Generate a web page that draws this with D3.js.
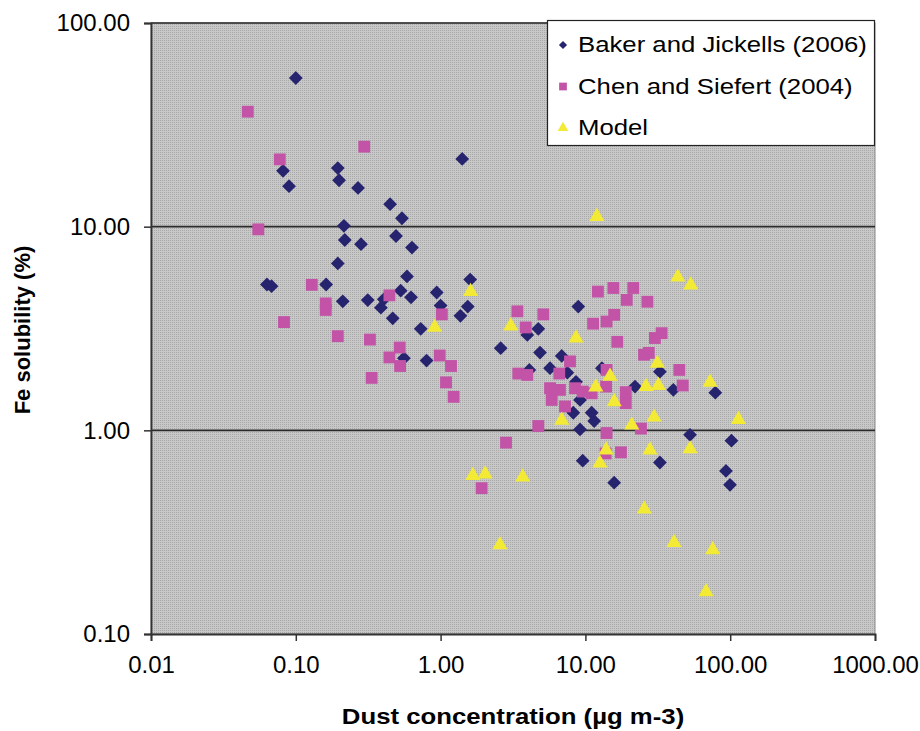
<!DOCTYPE html>
<html>
<head>
<meta charset="utf-8">
<script src="https://cdn.jsdelivr.net/npm/d3@7"></script>
<style>
html,body{margin:0;padding:0;background:#fff;}
svg{display:block;}
text{font-family:"Liberation Sans",Arial,sans-serif;fill:#000;}
</style>
</head>
<body>
<svg id="chart" width="920" height="731"></svg>
<script>
// ---- data (dust concentration µg m-3, Fe solubility %) ----
const bakerX = [0.10,0.0816,0.0898,0.195,0.199,0.269,1.41,0.448,0.541,0.215,0.218,0.282,0.492,0.634,0.195,0.0632,0.068,0.162,0.211,0.314,0.405,0.387,0.467,0.586,0.530,0.625,0.94,1.0,0.729,1.37,1.54,1.60,0.80,0.558,8.93,4.73,3.97,2.60,4.86,6.86,5.70,4.10,7.50,8.61,9.18,8.25,11.05,11.5,9.18,22.0,32.7,40.5,78.9,52.8,102,13.0,9.58,32.7,15.8,93.5,99.7];
const bakerY = [53.7,18.8,15.8,19.4,16.9,15.5,21.5,12.9,11.0,10.1,8.6,8.2,9.0,7.9,6.6,5.2,5.1,5.2,4.3,4.36,4.4,4.0,3.55,5.7,4.85,4.5,4.75,4.1,3.15,3.65,4.05,5.5,2.2,2.26,4.05,3.15,2.94,2.53,2.41,2.32,2.02,1.98,1.92,1.73,1.41,1.22,1.22,1.11,1.01,1.64,1.94,1.58,1.53,0.95,0.89,2.02,0.71,0.695,0.553,0.632,0.54];

const chenX = [0.0466,0.0775,0.297,0.0551,0.129,0.161,0.161,0.0829,0.195,0.325,0.443,0.522,0.443,0.525,0.334,1.02,0.986,1.18,1.09,1.23,12.2,15.6,21.4,19.3,26.8,11.3,14.0,15.8,16.6,33.6,30.2,25.4,27.4,44.5,47.0,3.39,5.12,3.87,3.44,3.97,7.83,6.6,14.0,5.70,5.85,6.67,7.23,8.48,9.58,13.9,19.0,19.0,4.73,2.83,14.0,1.92,17.6,13.8,24.2,11.05];
const chenY = [36.7,21.4,24.7,9.7,5.18,4.2,3.9,3.4,2.90,2.79,4.6,2.55,2.28,2.07,1.81,3.71,2.33,2.07,1.72,1.46,4.8,5.0,5.0,4.37,4.28,3.34,3.42,3.69,2.72,3.0,2.84,2.35,2.4,1.98,1.66,3.84,3.71,3.2,1.9,1.87,2.18,1.9,1.98,1.61,1.41,1.58,1.31,1.61,1.55,1.64,1.54,1.36,1.05,0.87,0.97,0.52,0.78,0.77,1.02,1.52];

const modelX = [12.0,0.91,1.61,3.05,8.61,43.4,53.4,31.4,14.8,11.8,26.2,31.9,72.5,15.8,6.86,20.9,29.8,114,13.9,27.9,52.8,1.67,2.03,3.69,12.6,25.5,2.57,40.9,75.7,68.1];
const modelY = [11.2,3.2,4.8,3.25,2.84,5.65,5.17,2.13,1.84,1.63,1.64,1.66,1.72,1.38,1.12,1.06,1.16,1.13,0.80,0.80,0.81,0.60,0.61,0.59,0.69,0.41,0.274,0.281,0.259,0.161];

const xTicks = [0.01,0.1,1,10,100,1000];
const yTicks = [0.1,1,10,100];
const seriesNames = ["Baker and Jickells (2006)","Chen and Siefert (2004)","Model"];
const xTitle = "Dust concentration (µg m-3)";
const yTitle = "Fe solubility (%)";

// ---- drawing ----
const svg = d3.select("#chart");
const L = 151, R = 875, T = 23, B = 634;
const x = d3.scaleLog().domain([0.01,1000]).range([L,R]);
const y = d3.scaleLog().domain([0.1,100]).range([B,T]);

// plot background with fine dither pattern
const defs = svg.append("defs");
const pat = defs.append("pattern").attr("id","dots").attr("width",2).attr("height",2).attr("patternUnits","userSpaceOnUse");
pat.append("rect").attr("width",2).attr("height",2).attr("fill","#c8c8c8");
pat.append("rect").attr("width",1).attr("height",1).attr("fill","#a8a8a8");

svg.append("rect").attr("x",L).attr("y",T).attr("width",R-L).attr("height",B-T)
  .attr("fill","url(#dots)").attr("stroke","#8a8a8a").attr("stroke-width",1);

// gridlines
svg.append("g").selectAll("line").data(yTicks.filter(d=>d>0.1)).join("line")
  .attr("x1",L).attr("x2",R).attr("y1",d=>y(d)).attr("y2",d=>y(d))
  .attr("stroke","#2a2a2a").attr("stroke-width",1.6);

// axes
const fmt = d3.format(".2f");
const xAxis = svg.append("g").attr("transform",`translate(0,${B})`)
  .call(d3.axisBottom(x).tickValues(xTicks).tickFormat(fmt).tickSize(7).tickPadding(15));
const yAxis = svg.append("g").attr("transform",`translate(${L},0)`)
  .call(d3.axisLeft(y).tickValues(yTicks).tickFormat(fmt).tickSize(7).tickPadding(14));
[xAxis,yAxis].forEach(g=>{
  g.select(".domain").attr("stroke","#333").attr("stroke-width",1.8);
  g.selectAll(".tick line").attr("stroke","#333").attr("stroke-width",1.5);
  g.selectAll(".tick text").attr("font-size",24).attr("font-family","Liberation Sans, Arial, sans-serif").attr("fill","#222");
});

// markers
const diamond = d3.symbol().type(d3.symbolSquare).size(95);
const square = d3.symbol().type(d3.symbolSquare).size(140);
const tri = d3.symbol().type(d3.symbolTriangle).size(100);

svg.append("g").selectAll("path").data(d3.range(bakerX.length)).join("path")
  .attr("d",diamond)
  .attr("transform",i=>`translate(${x(bakerX[i])},${y(bakerY[i])}) rotate(45)`)
  .attr("fill","#27246f");
svg.append("g").selectAll("path").data(d3.range(chenX.length)).join("path")
  .attr("d",square)
  .attr("transform",i=>`translate(${x(chenX[i])},${y(chenY[i])})`)
  .attr("fill","#c253a6");
svg.append("g").selectAll("path").data(d3.range(modelX.length)).join("path")
  .attr("d",tri)
  .attr("transform",i=>`translate(${x(modelX[i])},${y(modelY[i])})`)
  .attr("fill","#f2ea34");

// legend
const lg = svg.append("g");
lg.append("rect").attr("x",547.5).attr("y",20.5).attr("width",327).attr("height",125)
  .attr("fill","#fff").attr("stroke","#222").attr("stroke-width",1.2);
const legSyms = [d3.symbol().type(d3.symbolSquare).size(34), d3.symbol().type(d3.symbolSquare).size(60), d3.symbol().type(d3.symbolTriangle).size(50)];
const legCols = ["#27246f","#c253a6","#f2ea34"];
seriesNames.forEach((n,i)=>{
  const cy = 44 + i*41.5;
  lg.append("path").attr("d",legSyms[i])
    .attr("transform",`translate(563,${cy+1})` + (i===0?" rotate(45)":""))
    .attr("fill",legCols[i]);
  lg.append("text").attr("transform",`translate(578,${cy+8}) scale(1.17,1)`)
    .attr("font-size",22).attr("fill","#111").text(n);
});

// titles
svg.append("text").attr("transform","translate(513,724) scale(1.12,1)").attr("text-anchor","middle")
  .attr("font-size",23).attr("font-weight","bold").text(xTitle);
svg.append("text").attr("transform","translate(30,330) rotate(-90)").attr("text-anchor","middle")
  .attr("font-size",22).attr("font-weight","bold").text(yTitle);
</script>
</body>
</html>
